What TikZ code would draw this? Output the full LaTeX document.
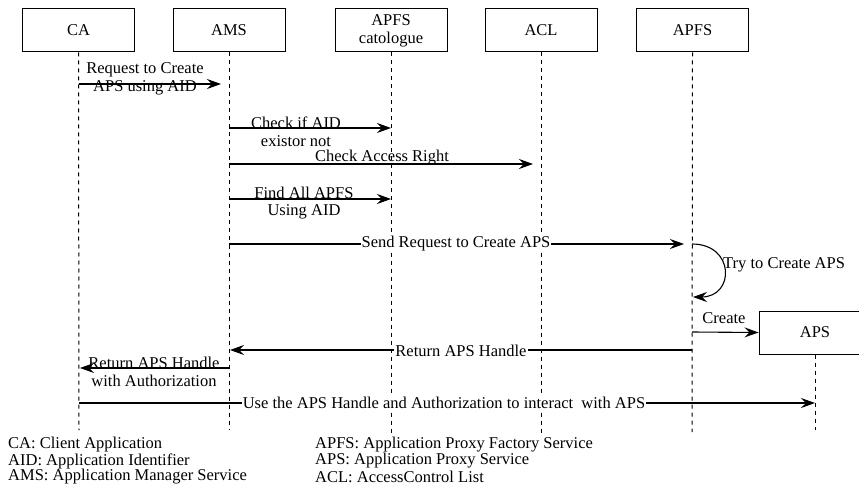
\documentclass[tikz,border=0pt]{standalone}
\usepackage{fontspec}
\setmainfont{Liberation Serif}
\usetikzlibrary{arrows.meta}
\begin{document}
\begin{tikzpicture}[x=1pt,y=-1pt,
  font=\fontsize{16.5}{17.5}\selectfont,
  actor/.style={draw, line width=1pt, minimum width=112pt, minimum height=43pt, inner sep=0pt, align=center, font=\fontsize{16.5}{18}\selectfont},
  life/.style={line width=1pt, dash pattern=on 4pt off 4pt},
  msg/.style={-{Stealth[length=14pt,width=10pt,inset=5pt]}, line width=1.1pt},
  lbl/.style={inner sep=1pt, align=center},
  ilbl/.style={fill=white, inner sep=1pt},
  legend/.style={anchor=west, inner sep=0pt}]
\clip (0,0) rectangle (859,489);
\fill[white] (0,0) rectangle (859,489);

% actors
\node[actor] (ca)  at (78.5,30.5) {CA};
\node[actor] (ams) at (229,30.5) {AMS};
\node[actor] (cat) at (391,30.5) {APFS\\catologue};
\node[actor] (acl) at (541,30.5) {ACL};
\node[actor] (apfs) at (692.5,30.5) {APFS};
\node[actor] (aps) at (815,332.5) {APS};

% lifeline ends
\coordinate (caE)   at (79,430);
\coordinate (amsE)  at (229,430);
\coordinate (catE)  at (391,435);
\coordinate (aclE)  at (541,434);
\coordinate (apfsE) at (692,432);
\coordinate (apsE)  at (815,430);
\draw[life] (ca.south) -- (caE);
\draw[life] (ams.south) -- (amsE);
\draw[life] (cat.south) -- (catE);
\draw[life] (acl.south) -- (aclE);
\draw[life] (apfs.south) -- (apfsE);
\draw[life] (aps.south) -- (apsE);

% message end points
\coordinate (m1a) at (79,84);   \coordinate (m1b) at (221,84);
\coordinate (m2a) at (229,128); \coordinate (m2b) at (391,128);
\coordinate (m3a) at (229,164); \coordinate (m3b) at (533,164);
\coordinate (m4a) at (229,199); \coordinate (m4b) at (391,199);
\coordinate (m5a) at (229,244); \coordinate (m5b) at (684,244);
\coordinate (m6a) at (692,244); \coordinate (m6b) at (693,297);
\coordinate (m7a) at (692,332);
\coordinate (m8a) at (692,350); \coordinate (m8b) at (230,350);
\coordinate (m9a) at (229,368); \coordinate (m9b) at (80,368);
\coordinate (m10a) at (79,403); \coordinate (m10b) at (815,403);

% messages
\draw[msg] (m1a) -- (m1b);
\node[lbl] (t1) at (145,79) {Request to Create\\APS using AID};

\draw[msg] (m2a) -- (m2b);
\node[lbl] (t2) at (296,132) {Check if AID\\existor not};

\draw[msg] (m3a) -- (m3b);
\node[lbl] (t3) at (382,158) {Check Access Right};

\draw[msg] (m4a) -- (m4b);
\node[lbl] (t4) at (304,203) {Find All APFS\\Using AID};

\draw[msg] (m5a) -- (m5b);
\node[ilbl] (t5) at (456,244) {Send Request to Create APS};

\draw[msg] (m6a) .. controls (735,244) and (735,297) .. (m6b);
\node[lbl, anchor=west] (t6) at (722,265) {Try to Create APS};

\draw[msg] (m7a) -- (aps.west);
\node[lbl] (t7) at (724,318) {Create};

\draw[msg] (m8a) -- (m8b);
\node[ilbl] (t8) at (461,351) {Return APS Handle};

\draw[msg] (m9a) -- (m9b);
\node[lbl] (t9) at (154,372) {Return APS Handle\\with Authorization};

\draw[msg] (m10a) -- (m10b);
\node[ilbl] (t10) at (444,403) {Use the APS Handle and Authorization to interact\ \ with APS};

% legend
\node[legend] (g1) at (8,445) {CA: Client Application};
\node[legend] (g2) at (8,461) {AID: Application Identifier};
\node[legend] (g3) at (8,477) {AMS: Application Manager Service};
\node[legend] (g4) at (315,445) {APFS: Application Proxy Factory Service};
\node[legend] (g5) at (315,461) {APS: Application Proxy Service};
\node[legend] (g6) at (315,477) {ACL: AccessControl List};
\end{tikzpicture}
\end{document}
